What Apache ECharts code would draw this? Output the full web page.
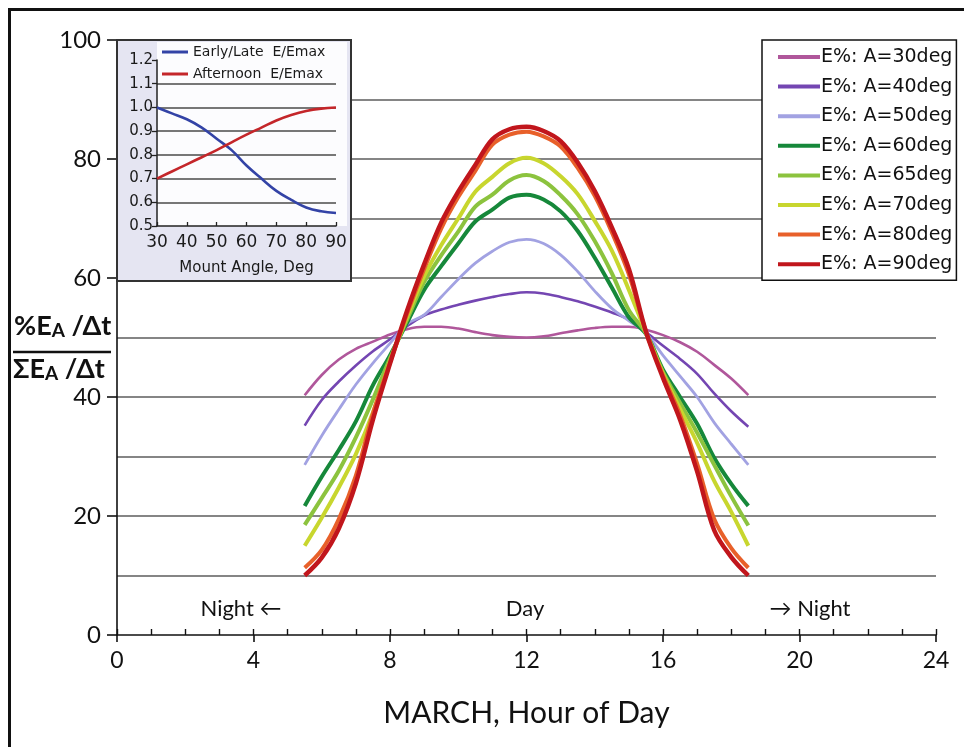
<!DOCTYPE html>
<html>
<head>
<meta charset="utf-8">
<script src="https://cdn.jsdelivr.net/npm/echarts@6/dist/echarts.min.js"></script>
<style>
  html, body { margin: 0; padding: 0; background: #fff; }
  #chart { width: 964px; height: 747px; }
</style>
</head>
<body>
<div id="chart"></div>
<script>
// Hour of day (March), half-hour steps from sunrise to sunset
const hours = [5.5,6,6.5,7,7.5,8,8.5,9,9.5,10,10.5,11,11.5,12,12.5,13,13.5,14,14.5,15,15.5,16,16.5,17,17.5,18,18.5];

// Normalised energy share %E_A/Δt over ΣE_A/Δt for each mount angle
const a30 = [40.3,43.7,46.3,48.1,49.3,50.5,51.4,51.8,51.8,51.5,50.9,50.4,50.1,50.0,50.2,50.7,51.2,51.6,51.8,51.8,51.3,50.4,49.2,47.6,45.4,43.1,40.3];
const a40 = [35.2,39.5,42.6,45.3,47.7,49.7,51.9,53.7,54.7,55.5,56.2,56.8,57.3,57.6,57.4,56.8,56.1,55.2,54.2,53.0,50.9,48.6,46.4,43.9,40.6,37.6,35.0];
const a50 = [28.6,33.5,37.9,42.1,45.7,49.0,52.3,53.8,56.8,59.8,62.5,64.5,66.0,66.5,65.8,63.9,61.1,57.8,54.9,52.8,50.7,47.0,43.5,40.0,35.7,32.1,28.6];
const a60 = [21.7,26.6,31.1,35.9,42.0,47.0,52.5,58.0,62.0,65.8,69.5,71.5,73.5,74.0,73.2,71.2,67.9,63.4,58.4,53.4,50.6,44.6,40.0,35.5,29.8,25.4,21.7];
const a65 = [18.5,23.0,27.6,33.2,39.6,46.5,53.0,59.3,63.8,67.8,72.0,74.0,76.4,77.3,76.3,73.9,70.7,66.2,60.8,54.6,50.7,44.2,39.0,34.0,28.6,23.3,18.4];
const a70 = [15.0,19.7,24.8,30.4,37.4,46.0,53.5,60.3,65.5,70.0,74.5,77.0,79.3,80.2,79.3,77.1,74.1,69.6,64.6,58.0,50.8,43.9,38.0,32.3,25.9,20.7,15.0];
const a80 = [11.3,14.3,19.5,26.8,37.2,45.8,54.0,61.5,68.3,73.6,78.0,82.4,84.1,84.6,83.8,82.1,78.5,73.8,67.7,60.6,51.0,43.6,37.0,28.8,19.5,14.6,11.3];
const a90 = [10.0,13.0,17.9,25.5,36.2,45.6,54.5,62.3,69.3,74.5,79.0,83.3,85.0,85.4,84.7,83.0,79.4,74.6,68.5,61.5,51.0,43.2,36.2,27.5,17.6,13.1,10.0];

const seriesNames = ['E%: A=30deg','E%: A=40deg','E%: A=50deg','E%: A=60deg','E%: A=65deg','E%: A=70deg','E%: A=80deg','E%: A=90deg'];

// Inset: relative energy vs mount angle
const angles = [30,35,40,45,50,55,60,65,70,75,80,85,90];
const earlyLate = [1.0,0.975,0.95,0.915,0.868,0.82,0.755,0.70,0.648,0.61,0.578,0.562,0.555];
const afternoon = [0.70,0.73,0.76,0.79,0.82,0.853,0.885,0.915,0.945,0.968,0.985,0.995,1.0];
const insetNames = ['Early/Late  E/Emax', 'Afternoon  E/Emax'];

// Axis tick label values
const xTicks = [0,4,8,12,16,20,24];
const yTicks = [0,20,40,60,80,100];

const mainData = [a30,a40,a50,a60,a65,a70,a80,a90];
const mainColors = ['#b0579b','#7446b2','#a2a2e2','#16883a','#8cc33e','#c8d62e','#e8602a','#c1161c'];
const mainWidths = [2.6,2.6,2.8,4,4,4,4,4.5];

const pair = (xs, ys) => xs.map((x, i) => [x, ys[i]]);

const chart = echarts.init(document.getElementById('chart'), null, { renderer: 'canvas' });

const mainFont = 'Lato, "Open Sans", sans-serif';
const insetFont = '"DejaVu Sans", Verdana, sans-serif';

const mainSeries = mainData.map((d, i) => ({
  name: seriesNames[i],
  type: 'line',
  xAxisIndex: 0,
  yAxisIndex: 0,
  data: pair(hours, d),
  smooth: 0.35,
  showSymbol: false,
  symbol: 'none',
  z: 2 + i * 0.01,
  lineStyle: { color: mainColors[i], width: mainWidths[i] },
  itemStyle: { color: mainColors[i] }
}));

const insetColors = ['#3343a6', '#c4262a'];
const insetSeries = [earlyLate, afternoon].map((d, i) => ({
  name: insetNames[i],
  type: 'line',
  xAxisIndex: 2,
  yAxisIndex: 2,
  data: pair(angles, d),
  smooth: 0.4,
  showSymbol: false,
  symbol: 'none',
  z: 8,
  lineStyle: { color: insetColors[i], width: 2.6 },
  itemStyle: { color: insetColors[i] }
}));

// grid lines every 10, skipping the axis (0) and the top (100)
const mainSplitColors = [];
for (let v = 0; v <= 100; v += 10) mainSplitColors.push(v === 0 || v === 100 ? 'rgba(0,0,0,0)' : '#858585');
const insetSplitColors = [];
for (let k = 0; k <= 7; k++) insetSplitColors.push(k === 0 || k === 7 ? 'rgba(0,0,0,0)' : '#777777');

const ratioRich = {
  a: { fontFamily: mainFont, fontSize: 27, fontWeight: 'bold', fill: '#111' },
  s: { fontFamily: mainFont, fontSize: 19, fontWeight: 'bold', fill: '#111', verticalAlign: 'bottom', padding: [8, 0, 0, 0] }
};

const option = {
  animation: false,
  backgroundColor: '#ffffff',
  grid: [
    { left: 117, right: 28, top: 40, bottom: 112 },
    { left: 157, top: 60, width: 179, height: 166, z: 6, show: false }
  ],
  xAxis: [
    {
      gridIndex: 0, type: 'value', min: 0, max: 24, interval: 4,
      axisLine: { show: true, onZero: false, lineStyle: { color: '#111', width: 1.6 } },
      axisTick: { show: true, inside: false, length: 7, lineStyle: { color: '#111', width: 1.6 } },
      axisLabel: {
        margin: 14, color: '#111', fontFamily: mainFont, fontSize: 23,
        formatter: v => (xTicks.indexOf(v) >= 0 ? String(v) : '')
      },
      splitLine: { show: false },
      name: 'MARCH, Hour of Day', nameLocation: 'middle', nameGap: 63,
      nameTextStyle: { color: '#111', fontFamily: mainFont, fontSize: 30 }
    },
    {
      gridIndex: 0, type: 'value', min: 0, max: 24, interval: 1, position: 'bottom',
      axisLine: { show: false, onZero: false },
      axisTick: { show: true, inside: true, length: 6, lineStyle: { color: '#111', width: 1.4 } },
      axisLabel: { show: false },
      splitLine: { show: false }
    },
    {
      gridIndex: 1, type: 'value', min: 30, max: 90, interval: 10, z: 7,
      axisLine: { show: true, onZero: false, lineStyle: { color: '#222', width: 1.5 } },
      axisTick: { show: true, inside: true, length: 4, lineStyle: { color: '#222', width: 1.3 } },
      axisLabel: { margin: 8, color: '#1a1a1a', fontFamily: insetFont, fontSize: 17 },
      splitLine: { show: false },
      name: 'Mount Angle, Deg', nameLocation: 'middle', nameGap: 35,
      nameTextStyle: { color: '#1a1a1a', fontFamily: insetFont, fontSize: 15 }
    }
  ],
  yAxis: [
    {
      gridIndex: 0, type: 'value', min: 0, max: 100, interval: 10,
      axisLine: { show: false }, axisTick: { show: false }, axisLabel: { show: false },
      splitLine: { show: true, lineStyle: { color: mainSplitColors, width: 1.8 } }
    },
    {
      gridIndex: 0, type: 'value', min: 0, max: 100, interval: 20, position: 'left',
      axisLine: { show: true, onZero: false, lineStyle: { color: '#111', width: 1.6 } },
      axisTick: { show: true, inside: false, length: 10, lineStyle: { color: '#111', width: 1.6 } },
      axisLabel: {
        margin: 16, color: '#111', fontFamily: mainFont, fontSize: 24,
        formatter: v => (yTicks.indexOf(v) >= 0 ? String(v) : '')
      },
      splitLine: { show: false }
    },
    {
      gridIndex: 1, type: 'value', min: 0.5, max: 1.2, interval: 0.1, z: 7,
      axisLine: { show: true, onZero: false, lineStyle: { color: '#222', width: 1.5 } },
      axisTick: { show: true, inside: false, length: 5, lineStyle: { color: '#222', width: 1.3 } },
      axisLabel: {
        margin: 4, color: '#1a1a1a', fontFamily: insetFont, fontSize: 15,
        formatter: v => v.toFixed(1)
      },
      splitLine: { show: true, lineStyle: { color: insetSplitColors, width: 2 } }
    }
  ],
  legend: [
    {
      data: seriesNames,
      orient: 'vertical',
      left: 762, top: 40,
      padding: [7, 4, 6, 16],
      itemWidth: 42, itemHeight: 4, itemGap: 9.6,
      icon: 'rect',
      backgroundColor: '#ffffff',
      borderColor: '#111', borderWidth: 1.5,
      textStyle: { color: '#111', fontFamily: insetFont, fontSize: 19, lineHeight: 20, padding: [0, 0, 0, -4] },
      selectedMode: false,
      z: 9
    },
    {
      data: insetNames,
      orient: 'vertical',
      left: 162, top: 44,
      padding: 0,
      itemWidth: 26, itemHeight: 3, itemGap: 6,
      icon: 'rect',
      textStyle: { color: '#1a1a1a', fontFamily: insetFont, fontSize: 14, lineHeight: 16 },
      selectedMode: false,
      z: 9
    }
  ],
  graphic: [
    // outer frame
    { type: 'rect', z: 20, silent: true,
      shape: { x: 9.5, y: 9.5, width: 1000, height: 800 },
      style: { fill: 'none', stroke: '#111', lineWidth: 3 } },
    // inset panel
    { type: 'rect', z: 3, silent: true,
      shape: { x: 117, y: 40, width: 234, height: 241 },
      style: { fill: '#e5e5f2', stroke: '#333', lineWidth: 2 } },
    { type: 'rect', z: 3.5, silent: true,
      shape: { x: 157, y: 42, width: 190, height: 184 },
      style: { fill: '#fcfcfe' } },
    // y-axis ratio label
    { type: 'text', z: 10, silent: true, left: 14, top: 313,
      style: { text: '{a|%E}{s|A}{a| /Δt}', rich: ratioRich } },
    { type: 'line', z: 10, silent: true,
      shape: { x1: 13, y1: 352, x2: 111, y2: 352 },
      style: { stroke: '#111', lineWidth: 2.5 } },
    { type: 'text', z: 10, silent: true, left: 13, top: 356,
      style: { text: '{a|ΣE}{s|A}{a| /Δt}', rich: ratioRich } },
    // day / night annotations
    { type: 'text', z: 10, silent: true, x: 241, y: 609,
      style: { text: 'Night ←', fontFamily: mainFont, fontSize: 22, fill: '#111', align: 'center', verticalAlign: 'middle' } },
    { type: 'text', z: 10, silent: true, x: 525, y: 609,
      style: { text: 'Day', fontFamily: mainFont, fontSize: 22, fill: '#111', align: 'center', verticalAlign: 'middle' } },
    { type: 'text', z: 10, silent: true, x: 810, y: 609,
      style: { text: '→ Night', fontFamily: mainFont, fontSize: 22, fill: '#111', align: 'center', verticalAlign: 'middle' } }
  ],
  series: mainSeries.concat(insetSeries)
};

chart.setOption(option);
</script>
</body>
</html>
